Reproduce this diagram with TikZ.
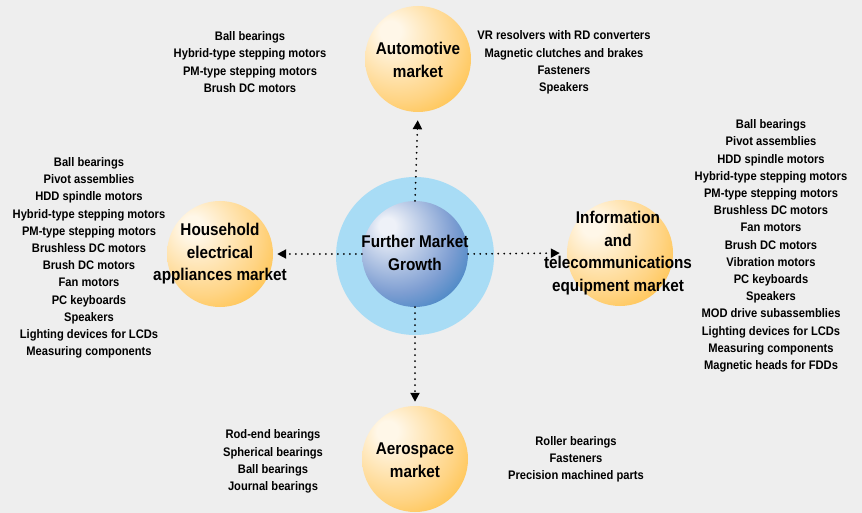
\documentclass[tikz,border=0pt]{standalone}
\usepackage{fontspec}
\setmainfont{Liberation Sans}[FakeStretch=0.9]
\usetikzlibrary{arrows.meta}
\definecolor{bg}{HTML}{EEEEEE}
\definecolor{halo}{HTML}{A8DCF5}
\definecolor{orhi}{HTML}{FFF7E8}
\definecolor{ormid}{HTML}{FFD484}
\definecolor{oredge}{HTML}{FFAA00}
\definecolor{blhi}{HTML}{EEF1F8}
\definecolor{blmid}{HTML}{7E9ED2}
\definecolor{bledge}{HTML}{0068B4}
\pgfdeclareradialshading{orangeball}{\pgfpoint{-14bp}{14bp}}{%
  color(0bp)=(orhi); color(5bp)=(orhi); color(28bp)=(ormid); color(52bp)=(oredge); color(72bp)=(oredge)}
\pgfdeclareradialshading{blueball}{\pgfpoint{-14bp}{14bp}}{%
  color(0bp)=(blhi); color(4bp)=(blhi); color(27bp)=(blmid); color(50bp)=(bledge); color(72bp)=(bledge)}
\tikzset{
  orb/.style={circle, shading=orangeball, minimum size=106pt, inner sep=0pt},
  sphere/.style={circle, shading=blueball, minimum size=106pt, inner sep=0pt},
  haloc/.style={circle, fill=halo, minimum size=158pt, inner sep=0pt},
  lbl/.style={align=center, inner sep=0pt, font=\bfseries\fontsize{17}{22.5}\selectfont},
  lst/.style={align=center, inner sep=0pt, font=\bfseries\fontsize{12.4}{17.2}\selectfont},
  conn/.style={line width=2pt, line cap=round, dash pattern=on 0pt off 6pt,
    -{Triangle[width=9pt,length=9pt]}},
}
\begin{document}
\begin{tikzpicture}[x=1pt,y=1pt]
\fill[bg] (0,0) rectangle (862,-513);
\useasboundingbox (0,0) rectangle (862,-513);
% centre
\node[haloc] (h) at (415,-256) {};
\node[sphere] (c) at (415,-254) {};
\node[lbl] (cl) at (415,-253) {Further Market\\Growth};
% outer circles
\node[orb] (auto) at (418,-59) {};
\node[lbl] (autol) at (418,-60) {Automotive\\market};
\node[orb] (house) at (220,-254) {};
\node[lbl] (housel) at (220,-254) {Household\\electrical\\appliances market};
\node[orb] (info) at (620,-253) {};
\node[lbl] (infol) at (618,-253) {Information\\and\\telecommunications\\equipment market};
\node[orb] (aero) at (415,-459) {};
\node[lbl] (aerol) at (415,-460) {Aerospace\\market};
% connectors
\draw[conn, shorten >=8pt] (c.north) -- (auto.south);
\draw[conn, shorten >=4pt] (c.west) -- (house.east);
\draw[conn, shorten >=7pt] (c.east) -- (info.west);
\draw[conn, shorten >=4pt] (c.south) -- (aero.north);
% lists
\node[lst] (autoA) at (250,-62) {Ball bearings\\Hybrid-type stepping motors\\PM-type stepping motors\\Brush DC motors};
\node[lst] (autoB) at (564,-62.5) {VR resolvers with RD converters\\Magnetic clutches and brakes\\Fasteners\\Speakers};
\node[lst] (houseA) at (89,-258) {Ball bearings\\Pivot assemblies\\HDD spindle motors\\Hybrid-type stepping motors\\PM-type stepping motors\\Brushless DC motors\\Brush DC motors\\Fan motors\\PC keyboards\\Speakers\\Lighting devices for LCDs\\Measuring components};
\node[lst] (infoA) at (771,-246) {Ball bearings\\Pivot assemblies\\HDD spindle motors\\Hybrid-type stepping motors\\PM-type stepping motors\\Brushless DC motors\\Fan motors\\Brush DC motors\\Vibration motors\\PC keyboards\\Speakers\\MOD drive subassemblies\\Lighting devices for LCDs\\Measuring components\\Magnetic heads for FDDs};
\node[lst] (aeroA) at (273,-461.5) {Rod-end bearings\\Spherical bearings\\Ball bearings\\Journal bearings};
\node[lst] (aeroB) at (576,-459.5) {Roller bearings\\Fasteners\\Precision machined parts};
\end{tikzpicture}
\end{document}
